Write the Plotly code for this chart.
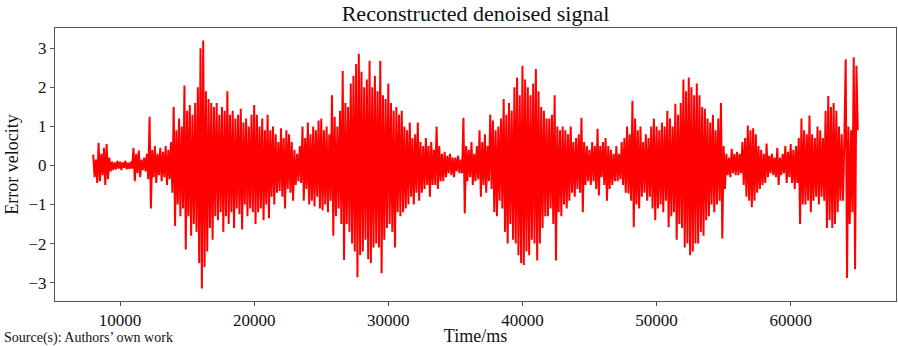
import plotly.graph_objects as go

# Time axis: samples every 100 ms from 8000 ms to 65000 ms
t_start = 8000
t_step = 100

# Signal values, one row per second (10 samples each)
signal_rows = [
    [0.28, -0.3, 0.15, -0.45, 0.58, -0.4, 0.3, -0.25, 0.45, -0.5],      # 8 s
    [0.55, -0.35, 0.2, -0.15, 0.1, -0.12, 0.08, -0.1, 0.12, -0.08],     # 9 s
    [0.1, -0.12, 0.08, -0.06, 0.12, -0.1, 0.07, -0.09, 0.1, -0.08],     # 10 s
    [0.45, -0.4, 0.3, -0.2, 0.38, -0.3, 0.15, -0.12, 0.2, -0.15],       # 11 s
    [0.3, -0.35, 1.25, -1.1, 0.4, -0.3, 0.5, -0.45, 0.3, -0.25],        # 12 s
    [0.45, -0.4, 0.35, -0.3, 0.5, -0.5, 0.4, -0.35, 0.6, -0.7],         # 13 s
    [1.5, -1.55, 0.9, -1.0, 1.2, -1.3, 1.0, -1.1, 2.05, -2.15],         # 14 s
    [1.4, -1.3, 1.55, -1.8, 1.3, -1.5, 1.6, -1.7, 2.0, -2.5],           # 15 s
    [3.0, -3.15, 3.2, -2.6, 1.9, -2.2, 1.7, -1.6, 1.6, -1.9],           # 16 s
    [1.5, -1.3, 1.6, -1.4, 1.3, -1.2, 1.5, -1.7, 1.4, -1.3],            # 17 s
    [1.9, -1.5, 1.3, -1.2, 1.4, -1.6, 1.2, -1.1, 1.3, -1.25],           # 18 s
    [1.45, -1.64, 1.1, -1.0, 1.2, -1.3, 1.0, -1.1, 1.3, -1.2],          # 19 s
    [1.55, -1.5, 1.3, -1.2, 1.0, -1.1, 1.2, -1.4, 0.9, -1.0],           # 20 s
    [1.3, -1.35, 0.9, -0.8, 1.0, -1.0, 0.8, -0.7, 0.6, -0.65],          # 21 s
    [0.95, -0.8, 0.7, -1.1, 0.9, -0.6, 0.8, -0.7, 0.6, -0.9],           # 22 s
    [0.4, -0.5, 0.3, -0.4, 0.5, -0.45, 1.0, -0.9, 0.7, -0.6],           # 23 s
    [1.1, -1.0, 0.8, -0.9, 1.0, -1.05, 0.9, -0.8, 1.15, -1.1],          # 24 s
    [1.2, -1.15, 0.9, -1.0, 1.0, -1.2, 0.8, -0.9, 1.8, -1.8],           # 25 s
    [1.25, -1.3, 1.0, -1.1, 1.4, -1.5, 2.42, -2.42, 1.6, -1.5],         # 26 s
    [1.5, -1.7, 2.1, -2.0, 2.3, -2.2, 2.6, -2.86, 2.86, -2.3],          # 27 s
    [2.4, -2.2, 2.0, -1.9, 2.2, -2.4, 2.68, -2.5, 2.0, -2.1],           # 28 s
    [2.3, -2.0, 1.9, -2.1, 2.68, -2.76, 1.8, -1.9, 1.7, -1.6],          # 29 s
    [2.1, -1.5, 1.6, -1.7, 1.4, -2.1, 1.5, -1.2, 1.3, -1.3],            # 30 s
    [1.4, -1.2, 1.0, -1.1, 0.9, -1.0, 1.1, -0.8, 0.7, -1.0],            # 31 s
    [0.8, -0.7, 1.1, -0.9, 0.6, -0.7, 0.5, -0.6, 0.7, -0.5],            # 32 s
    [0.5, -0.8, 0.6, -0.5, 0.4, -0.5, 1.0, -0.6, 0.5, -0.4],            # 33 s
    [0.3, -0.4, 0.35, -0.3, 0.25, -0.2, 0.3, -0.25, 0.2, -0.3],         # 34 s
    [0.2, -0.15, 0.25, -0.2, 0.15, -0.2, 1.22, -1.23, 0.5, -0.4],       # 35 s
    [0.4, -0.3, 0.6, -0.5, 0.3, -0.4, 0.5, -0.35, 0.9, -0.8],           # 36 s
    [0.6, -0.5, 0.8, -0.7, 0.5, -0.4, 1.3, -0.6, 1.15, -1.2],           # 37 s
    [0.9, -1.3, 1.0, -0.9, 1.2, -1.1, 1.7, -1.7, 1.3, -2.0],            # 38 s
    [1.6, -1.5, 1.4, -1.9, 2.0, -2.0, 2.25, -2.3, 1.8, -2.5],           # 39 s
    [2.55, -2.55, 2.2, -2.2, 2.0, -2.3, 1.8, -1.9, 2.1, -2.0],          # 40 s
    [2.47, -2.43, 1.9, -2.0, 1.5, -1.6, 1.4, -1.3, 1.2, -1.3],          # 41 s
    [1.2, -1.1, 1.3, -1.5, 1.8, -2.43, 1.0, -1.2, 0.9, -1.3],           # 42 s
    [1.0, -1.0, 0.9, -1.1, 0.8, -0.9, 1.0, -0.7, 0.6, -0.8],            # 43 s
    [0.7, -0.6, 0.8, -0.7, 1.22, -1.2, 0.6, -0.5, 0.5, -0.4],           # 44 s
    [0.4, -0.5, 0.6, -0.4, 0.5, -0.6, 0.94, -0.77, 0.5, -0.3],          # 45 s
    [0.6, -0.5, 0.7, -0.9, 0.5, -0.6, 0.4, -0.5, 0.3, -0.4],            # 46 s
    [0.5, -0.4, 0.3, -0.35, 0.6, -0.5, 0.7, -0.7, 1.0, -0.72],          # 47 s
    [0.8, -0.9, 1.66, -1.58, 1.2, -1.0, 0.9, -1.1, 1.0, -0.8],          # 48 s
    [0.6, -0.7, 0.8, -0.9, 0.7, -0.8, 1.0, -1.1, 1.2, -1.4],            # 49 s
    [1.0, -1.1, 0.9, -1.0, 1.1, -1.2, 1.0, -0.9, 1.4, -1.58],           # 50 s
    [1.2, -1.3, 1.0, -1.2, 1.58, -1.9, 1.3, -1.5, 1.6, -1.6],           # 51 s
    [2.2, -2.1, 1.9, -2.0, 2.25, -2.3, 2.0, -2.2, 1.8, -2.0],           # 52 s
    [2.1, -2.0, 1.8, -1.7, 1.5, -1.8, 1.45, -1.4, 1.2, -1.3],           # 53 s
    [1.1, -1.0, 1.3, -1.2, 0.9, -1.0, 1.2, -0.9, 1.6, -1.87],           # 54 s
    [0.5, -0.6, 0.3, -0.25, 0.2, -0.3, 0.43, -0.2, 0.3, -0.25],         # 55 s
    [0.35, -0.25, 0.3, -0.2, 0.6, -0.5, 0.7, -0.8, 1.02, -0.9],         # 56 s
    [0.9, -1.07, 0.95, -0.9, 0.8, -0.7, 0.5, -0.6, 0.4, -0.5],          # 57 s
    [0.3, -0.45, 0.56, -0.3, 0.25, -0.2, 0.3, -0.25, 0.2, -0.3],        # 58 s
    [0.45, -0.5, 0.2, -0.25, 0.3, -0.2, 0.5, -0.45, 0.35, -0.3],        # 59 s
    [0.55, -0.45, 0.4, -0.6, 0.5, -0.45, 0.7, -1.5, 1.2, -1.0],         # 60 s
    [0.9, -1.0, 0.8, -0.9, 1.28, -1.2, 0.8, -0.9, 0.7, -0.8],           # 61 s
    [1.0, -1.0, 0.9, -0.8, 0.7, -0.9, 1.4, -1.6, 1.78, -1.4],           # 62 s
    [1.5, -1.6, 1.6, -1.5, 1.4, -1.2, 1.0, -0.9, 0.8, -0.9],            # 63 s
    [0.7, 2.72, -2.88, 1.0, -1.5, 0.9, -1.2, 2.77, -2.66, 2.55],        # 64 s
]
signal_last = [0.9]  # 65 s

x_ticks = [10000, 20000, 30000, 40000, 50000, 60000]
y_ticks = [-3, -2, -1, 0, 1, 2, 3]

title_text = "Reconstructed denoised signal"
x_label = "Time/ms"
y_label = "Error velocity"
source_text = "Source(s): Authors’ own work"

values = [v for row in signal_rows for v in row] + signal_last
times = [t_start + i * t_step for i in range(len(values))]

FONT = "Liberation Serif, Times New Roman, serif"

fig = go.Figure()
fig.add_trace(go.Scatter(
    x=times, y=values, mode="lines",
    line=dict(color="#ff0000", width=2),
    showlegend=False, hoverinfo="skip",
))

axis_common = dict(
    showline=True, linecolor="#555555", linewidth=1, mirror=True,
    ticks="outside", ticklen=4, tickcolor="#555555", tickwidth=1,
    showgrid=False, zeroline=False, automargin=False,
    tickfont=dict(family=FONT, size=17, color="#111111"),
)

fig.update_layout(
    width=898, height=346,
    margin=dict(l=55, r=2, t=28, b=45),
    paper_bgcolor="white", plot_bgcolor="white",
    title=dict(text=title_text, x=0.5, xref="paper", xanchor="center",
               y=1 - 13 / 346, yanchor="middle", yref="container",
               font=dict(family=FONT, size=22, color="#111111")),
    xaxis=dict(range=[5150, 67850], tickvals=x_ticks,
               ticktext=[str(v) for v in x_ticks],
               title=dict(text=x_label, standoff=4,
                          font=dict(family=FONT, size=18, color="#111111")),
               **axis_common),
    yaxis=dict(range=[-3.47, 3.52], tickvals=y_ticks,
               ticktext=[("−" + str(-v)) if v < 0 else str(v) for v in y_ticks],
               title=dict(text=y_label, standoff=5,
                          font=dict(family=FONT, size=18, color="#111111")),
               **axis_common),
)

fig.add_annotation(
    text=source_text, xref="paper", yref="paper",
    x=-0.062, y=-45 / 273, xanchor="left", yanchor="bottom", showarrow=False,
    borderpad=0, yshift=-1,
    font=dict(family=FONT, size=14, color="#111111"),
)

fig.write_html("out.html",
               config={"displayModeBar": False},
               post_script="document.body.style.margin='0';document.body.style.overflow='hidden';")
